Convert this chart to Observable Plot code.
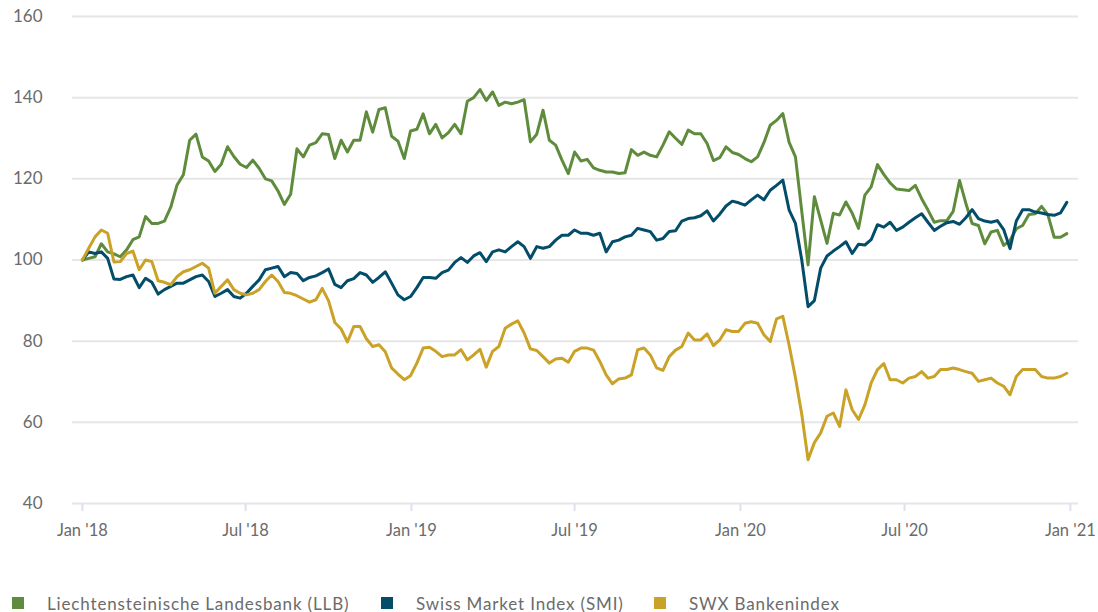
<!DOCTYPE html>
<html>
<head>
<meta charset="utf-8">
<script src="https://cdn.jsdelivr.net/npm/d3@7"></script>
<script src="https://cdn.jsdelivr.net/npm/@observablehq/plot@0.6"></script>
<style>
  html, body { margin: 0; padding: 0; background: #fff; }
  body { width: 1098px; height: 612px; position: relative; overflow: hidden; font-family: Lato, "Open Sans", sans-serif; }
  #chart svg { display: block; }
  g[aria-label="x-axis tick"] { stroke: #dbe2ee; stroke-width: 2px; }
  .legend { position: absolute; top: 593px; left: 0; width: 1098px; height: 20px; }
  .item { position: absolute; top: 0; height: 20px; display: flex; align-items: center; font-size: 17px; letter-spacing: 0.85px; color: #6b6b6b; white-space: nowrap; }
  .sw { width: 12px; height: 12px; margin-right: 23px; }
</style>
</head>
<body>
<div id="chart"></div>
<div class="legend" id="legend"></div>
<script>
const seriesNames = ["Liechtensteinische Landesbank (LLB)", "Swiss Market Index (SMI)", "SWX Bankenindex"];
const seriesColors = ["#5f8c3c", "#034d6a", "#c9a227"];
const startDate = "2018-01-01"; // weekly observations
const yTicks = [40, 60, 80, 100, 120, 140, 160];
const xTickDates = ["2018-01-01", "2018-07-01", "2019-01-01", "2019-07-01", "2020-01-01", "2020-07-01", "2021-01-01"];
const xTickLabels = ["Jan '18", "Jul '18", "Jan '19", "Jul '19", "Jan '20", "Jul '20", "Jan '21"];

const LLB = [100, 100.4, 100.8, 104, 102, 101.5, 100.8, 102.5, 105, 105.7,
  110.7, 109, 109, 109.6, 113, 118.5, 121, 129.5, 131, 125.4,
  124.4, 121.8, 123.6, 127.9, 125.5, 123.6, 122.8, 124.6, 122.6, 120,
  119.5, 117, 113.7, 116.2, 127.4, 125.4, 128.3, 128.9, 131.1, 130.9,
  125, 129.5, 126.6, 129.5, 129.5, 136.5, 131.5, 137.1, 137.5, 130.5,
  129.3, 125, 131.8, 132.2, 136, 131.1, 133.4, 130.1, 131.4, 133.4,
  131.1, 139.1, 140, 142, 139.3, 141.4, 138.1, 138.9, 138.5, 138.9,
  139.5, 129.1, 131, 136.9, 129.5, 128.3, 124.6, 121.3, 126.6, 124.4,
  124.8, 122.7, 122.1, 121.7, 121.7, 121.3, 121.5, 127.2, 125.8, 126.6,
  125.8, 125.4, 128.3, 131.6, 130, 128.5, 132, 131.1, 131.1, 128.7,
  124.5, 125.2, 127.9, 126.5, 126, 125, 124.2, 125.4, 128.9, 133.2,
  134.4, 136.1, 129, 125.4, 112, 98.8, 115.6, 109.8, 104.1, 111.5,
  111.1, 114.3, 111.5, 107.8, 116, 118, 123.5, 121.1, 119, 117.5,
  117.3, 117.1, 118.4, 115.1, 112.3, 109.3, 109.7, 109.7, 112, 119.6,
  114, 109, 108.5, 104, 106.9, 107.3, 103.6, 104.8, 107.7, 108.5,
  111.2, 111.4, 113.2, 111.2, 105.6, 105.6, 106.5];

const SMI = [100, 102, 101.6, 102, 100.4, 95.3, 95.2, 95.9, 96.3, 93.2,
  95.5, 94.5, 91.6, 92.7, 93.5, 94.3, 94.3, 95.1, 95.9, 96.3,
  94.7, 91, 91.8, 92.7, 91, 90.6, 91.8, 93.5, 95.1, 97.6,
  98, 98.4, 95.9, 96.9, 96.7, 94.9, 95.7, 96.1, 96.9, 97.8,
  94, 93.2, 94.9, 95.4, 96.9, 96.3, 94.5, 95.7, 97.1, 94.3,
  91.4, 90.2, 91, 93.2, 95.7, 95.7, 95.5, 96.9, 97.5, 99.4,
  100.6, 99.4, 101, 101.8, 99.6, 102, 102.5, 102, 103.3, 104.5,
  103.3, 100.4, 103.3, 102.9, 103.3, 104.9, 106.1, 106.1, 107.4, 106.6,
  106.6, 106.1, 106.6, 102, 104.5, 104.9, 105.7, 106.1, 107.8, 107.4,
  107, 104.9, 105.3, 107, 107.2, 109.6, 110.2, 110.4, 110.9, 112.1,
  109.6, 111.3, 113.3, 114.5, 114.1, 113.5, 114.8, 116, 114.8, 117.2,
  118.4, 119.7, 112.3, 109, 100, 88.5, 90, 98, 101, 102.2,
  103.3, 104.5, 101.6, 103.9, 103.7, 105, 108.7, 108.1, 109.3, 107.3,
  108.1, 109.3, 110.4, 111.4, 109.3, 107.3, 108.3, 109.2, 109.5, 108.8,
  110.4, 112.4, 110.2, 109.6, 109.3, 109.7, 107.5, 102.8, 109.6, 112.4,
  112.4, 111.8, 111.6, 111.2, 111, 111.6, 114.2];

const SWX = [100, 102.9, 105.7, 107.4, 106.6, 99.5, 99.6, 101.6, 102.2, 97.6,
  100, 99.6, 94.9, 94.5, 93.9, 95.9, 97.1, 97.6, 98.4, 99.2,
  98, 91.8, 93.5, 95.1, 92.7, 91.8, 91.4, 91.8, 92.7, 94.7,
  96.3, 94.7, 92, 91.8, 91.2, 90.4, 89.6, 90.2, 93, 90,
  84.6, 83, 79.8, 83.6, 83.6, 80.6, 78.7, 79.1, 77.4, 73.4,
  71.9, 70.5, 71.5, 74.6, 78.3, 78.5, 77.5, 76.2, 76.6, 76.6,
  77.9, 75.4, 76.6, 78, 73.6, 77.5, 78.7, 83.2, 84.2, 85,
  82, 78.1, 77.7, 76.2, 74.6, 75.6, 75.8, 74.8, 77.5, 78.3,
  78.3, 77.8, 75, 71.7, 69.5, 70.7, 70.9, 71.7, 77.9, 78.3,
  76.6, 73.4, 72.8, 76.2, 77.8, 78.7, 82, 80.3, 80.3, 81.8,
  78.9, 80.3, 82.8, 82.4, 82.4, 84.4, 84.8, 84.4, 81.6, 79.9,
  85.5, 86.1, 79, 71, 62, 50.8, 55, 57.4, 61.5, 62.3,
  59, 68, 63.1, 60.7, 64.3, 69.7, 73, 74.5, 70.5, 70.5,
  69.7, 70.9, 71.3, 72.5, 70.9, 71.3, 73, 73, 73.4, 73,
  72.5, 72.1, 70.1, 70.5, 70.9, 69.7, 68.9, 66.8, 71.3, 73,
  73, 73, 71.3, 70.9, 70.9, 71.3, 72.1];

const t0 = new Date(startDate + "T00:00:00Z");
const dateAt = i => d3.utcDay.offset(t0, 7 * i);
const xTicks = xTickDates.map(s => new Date(s + "T00:00:00Z"));
const series = [LLB, SMI, SWX];

const chart = Plot.plot({
  width: 1098,
  height: 550,
  marginLeft: 72,
  marginRight: 20,
  marginTop: 16,
  marginBottom: 47,
  style: { fontFamily: "Lato, 'Open Sans', sans-serif", color: "#6b6b6b", background: "#fff" },
  x: { type: "utc", domain: [new Date("2017-12-21T00:00:00Z"), new Date("2021-01-10T00:00:00Z")] },
  y: { domain: [40, 160] },
  marks: [
    Plot.ruleY(yTicks, { stroke: "#e6e6e6", strokeWidth: 2 }),
    Plot.axisY({ ticks: yTicks, tickSize: 0, tickPadding: 30, fontSize: 17, label: null }),
    Plot.axisX({ ticks: xTicks, tickFormat: (d) => xTickLabels[xTicks.findIndex(t => +t === +d)], tickSize: 8, tickPadding: 13, fontSize: 16.5, label: null }),
    ...series.map((s, k) => Plot.line(s, {
      x: (d, i) => dateAt(i),
      y: d => d,
      stroke: seriesColors[k],
      strokeWidth: 3,
      strokeLinejoin: "round",
      strokeLinecap: "round"
    }))
  ]
});
document.getElementById("chart").appendChild(chart);

const legendLeft = [12, 381, 654];
const legend = document.getElementById("legend");
seriesNames.forEach((name, k) => {
  const item = document.createElement("div");
  item.className = "item";
  item.style.left = legendLeft[k] + "px";
  const sw = document.createElement("span");
  sw.className = "sw";
  sw.style.background = seriesColors[k];
  const label = document.createElement("span");
  label.textContent = name;
  item.appendChild(sw);
  item.appendChild(label);
  legend.appendChild(item);
});
</script>
</body>
</html>
